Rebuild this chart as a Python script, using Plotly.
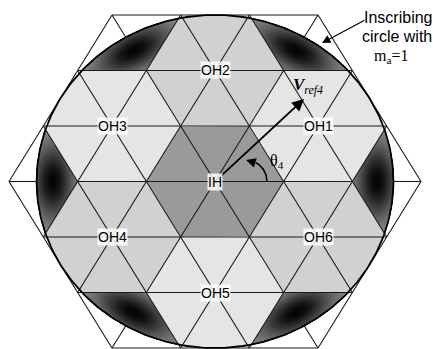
import numpy as np
import plotly.graph_objects as go

# ---------------- data ----------------
H = np.sqrt(3) / 2
R_CIRCLE = 3 * H            # inscribing circle, m_a = 1
HEX_SIDE = 3                # outer hexagon (in small-triangle units)

region_names = ["IH", "OH1", "OH2", "OH3", "OH4", "OH5", "OH6"]
region_cx = [0.0, 1.5, 0.0, -1.5, -1.5, 0.0, 1.5]
region_cy = [0.0, H, 2 * H, H, -H, -2 * H, -H]
region_gray = ["#9a9a9a", "#e5e5e5", "#d1d1d1", "#e5e5e5", "#d1d1d1", "#e5e5e5", "#d1d1d1"]

corner_angles_deg = [0, 60, 120, 180, 240, 300]

vref_tip = (1.296, 1.287)       # V_ref4 vector end
theta_arc_center = (0.466, 0.0)
theta_arc_radii = (0.291, 0.328)

# ---------------- pixel <-> unit mapping ----------------
W, HT = 433, 349
SX, SY = 68.67, 64.1
CXP, CYP = 215.0, 181.5
x_range = [(0 - CXP) / SX, (W - CXP) / SX]
y_range = [(CYP - HT) / SY, (CYP - 0) / SY]


def ux(px):
    return (px - CXP) / SX


def uy(py):
    return (CYP - py) / SY


fig = go.Figure()

# ---------------- dark corner regions (gradient) ----------------
pxs = np.arange(W) + 0.5
pys = np.arange(HT) + 0.5
gx = ux(pxs)
gy = uy(pys)
X, Y = np.meshgrid(gx, gy)
Z = np.full(X.shape, np.nan)
rr = np.hypot(X, Y)
for a_deg in corner_angles_deg:
    a = np.radians(a_deg)
    u = np.array([np.cos(a), np.sin(a)])
    C = HEX_SIDE * u
    I = (HEX_SIDE - 1) * u
    S1 = C + np.array([np.cos(a + 2 * np.pi / 3), np.sin(a + 2 * np.pi / 3)])
    S2 = C + np.array([np.cos(a - 2 * np.pi / 3), np.sin(a - 2 * np.pi / 3)])
    poly = [I, S2, C, S1]
    inside = np.ones(X.shape, bool)
    for i in range(4):
        p0 = poly[i]
        p1 = poly[(i + 1) % 4]
        cr = (p1[0] - p0[0]) * (Y - p0[1]) - (p1[1] - p0[1]) * (X - p0[0])
        inside &= cr >= -1e-9
    inside &= rr <= R_CIRCLE + 0.01
    dr = X * u[0] + Y * u[1] - 2.36
    dt = -X * u[1] + Y * u[0]
    q = (dr / 0.3) ** 2 + (dt / 0.6) ** 2
    g = 0.02 + 0.6 * (1 - np.exp(-q))
    Z = np.where(inside, g, Z)
Z = np.round(Z, 3)

fig.add_trace(go.Heatmap(
    x=gx, y=gy, z=Z, zmin=0, zmax=1,
    colorscale=[[0, "rgb(0,0,0)"], [1, "rgb(255,255,255)"]],
    showscale=False, hoverinfo="skip", zsmooth=False,
))


# ---------------- hexagon regions clipped to the circle ----------------
def clip_poly(vx, vy, n=80):
    xs, ys = [], []
    m = len(vx)
    for i in range(m):
        x0, y0 = vx[i], vy[i]
        x1, y1 = vx[(i + 1) % m], vy[(i + 1) % m]
        t = np.linspace(0, 1, n, endpoint=False)
        px = x0 + (x1 - x0) * t
        py = y0 + (y1 - y0) * t
        r = np.hypot(px, py)
        s = np.where(r > R_CIRCLE, R_CIRCLE / np.maximum(r, 1e-9), 1.0)
        xs += list(px * s)
        ys += list(py * s)
    xs.append(xs[0])
    ys.append(ys[0])
    return xs, ys


ang = np.radians(np.arange(0, 360, 60))
for name, cx, cy, col in zip(region_names, region_cx, region_cy, region_gray):
    vx = cx + np.cos(ang)
    vy = cy + np.sin(ang)
    xs, ys = clip_poly(vx, vy)
    fig.add_trace(go.Scatter(x=xs, y=ys, mode="lines", fill="toself",
                             fillcolor=col, line=dict(width=0),
                             hoverinfo="skip", showlegend=False))

# ---------------- triangular grid lines ----------------
segs = []
for k in range(-HEX_SIDE, HEX_SIDE + 1):
    yk = k * H
    half = HEX_SIDE - abs(k) / 2
    if k != 0:
        segs.append(((-half, yk), (half, yk)))
    else:
        segs.append(((-HEX_SIDE, 0), (-R_CIRCLE, 0)))
        segs.append(((-(HEX_SIDE - 1), 0), (HEX_SIDE - 1, 0)))
        segs.append(((R_CIRCLE, 0), (HEX_SIDE, 0)))
lx, ly = [], []
for rot in [0, 60, 120]:
    c, s = np.cos(np.radians(rot)), np.sin(np.radians(rot))
    for (x0, y0), (x1, y1) in segs:
        lx += [c * x0 - s * y0, c * x1 - s * y1, None]
        ly += [s * x0 + c * y0, s * x1 + c * y1, None]
fig.add_trace(go.Scatter(x=lx, y=ly, mode="lines",
                         line=dict(color="#1a1a1a", width=1.1),
                         hoverinfo="skip", showlegend=False))

# inscribing circle
tt = np.linspace(0, 2 * np.pi, 361)
fig.add_trace(go.Scatter(x=R_CIRCLE * np.cos(tt), y=R_CIRCLE * np.sin(tt),
                         mode="lines", line=dict(color="#000000", width=1.8),
                         hoverinfo="skip", showlegend=False))

# theta arc
ta = np.radians(np.linspace(0, 64, 40))
fig.add_trace(go.Scatter(x=theta_arc_center[0] + theta_arc_radii[0] * np.cos(ta),
                         y=theta_arc_center[1] + theta_arc_radii[1] * np.sin(ta),
                         mode="lines", line=dict(color="#000000", width=1.6),
                         hoverinfo="skip", showlegend=False))

annotations = []
# theta arc arrowhead
annotations.append(dict(x=ux(246), y=uy(160), ax=ux(256.5), ay=uy(163.2),
                        xref="x", yref="y", axref="x", ayref="y", text="",
                        showarrow=True, arrowhead=2, arrowsize=1.3, arrowwidth=1.5,
                        arrowcolor="#000000", standoff=0, startstandoff=0))
# V_ref4 arrow
annotations.append(dict(x=vref_tip[0], y=vref_tip[1], ax=0, ay=0,
                        xref="x", yref="y", axref="x", ayref="y", text="",
                        showarrow=True, arrowhead=2, arrowsize=1.2, arrowwidth=2,
                        arrowcolor="#000000", standoff=0))
# inscribing-circle pointer
annotations.append(dict(x=ux(322), y=uy(43), ax=ux(366), ay=uy(19.5),
                        xref="x", yref="y", axref="x", ayref="y", text="",
                        showarrow=True, arrowhead=2, arrowsize=1.4, arrowwidth=1.2,
                        arrowcolor="#000000", standoff=0))

# region labels
for name, cx, cy in zip(region_names, region_cx, region_cy):
    annotations.append(dict(x=cx, y=cy, xref="x", yref="y", text=name,
                            showarrow=False, bgcolor="rgba(255,255,255,0.85)",
                            borderpad=0,
                            font=dict(family="Liberation Sans, Arial", size=14,
                                      color="#000000")))

serif = "Liberation Serif, Times New Roman"
sans = "Liberation Sans, Arial"
annotations.append(dict(x=ux(308), y=uy(86), xref="x", yref="y",
                        text="<i><b>V</b><sub>ref4</sub></i>", showarrow=False,
                        font=dict(family=serif, size=17, color="#000000")))
annotations.append(dict(x=ux(277), y=uy(161), xref="x", yref="y",
                        text="θ<sub>4</sub>", showarrow=False,
                        font=dict(family=serif, size=16, color="#000000")))
annotations.append(dict(x=398 / W, y=1 - 17 / HT, xref="paper", yref="paper",
                        xanchor="center", yanchor="middle",
                        text="Inscribing", showarrow=False,
                        font=dict(family=sans, size=16, color="#000000")))
annotations.append(dict(x=397 / W, y=1 - 36 / HT, xref="paper", yref="paper",
                        xanchor="center", yanchor="middle",
                        text="circle with", showarrow=False,
                        font=dict(family=sans, size=16, color="#000000")))
annotations.append(dict(x=391 / W, y=1 - 56 / HT, xref="paper", yref="paper",
                        xanchor="center", yanchor="middle",
                        text="m<sub>a</sub>=1", showarrow=False,
                        font=dict(family=serif, size=16, color="#000000")))

fig.update_layout(
    width=W, height=HT, margin=dict(l=0, r=0, t=0, b=0),
    paper_bgcolor="white", plot_bgcolor="white", showlegend=False,
    xaxis=dict(range=x_range, visible=False, fixedrange=True),
    yaxis=dict(range=y_range, visible=False, fixedrange=True),
    annotations=annotations,
)

fig.write_html("out.html")
